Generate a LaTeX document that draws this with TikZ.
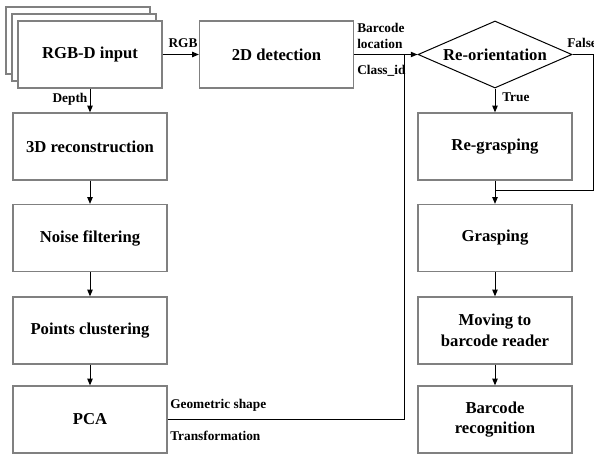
\documentclass[tikz,border=0pt]{standalone}
\usepackage{fontspec}
\setmainfont{Liberation Serif}
\usetikzlibrary{arrows.meta,shapes.geometric}

\begin{document}
\begin{tikzpicture}[
    x=0.75pt, y=-0.75pt,
    font=\bfseries\fontsize{12.5}{15.5}\selectfont,
    box/.style={
        rectangle, draw=black!50, line width=0.9pt, fill=white,
        align=center, minimum width=115.5pt, minimum height=50.25pt,
        inner sep=1mm
    },
    decision/.style={
        diamond, draw, line width=0.75pt, aspect=2.3, inner sep=0pt,
        minimum width=115.5pt, minimum height=50.25pt
    },
    lbl/.style={font=\bfseries\fontsize{10}{12}\selectfont, inner sep=0pt, align=left},
    conn/.style={-{Triangle[length=5pt, width=4pt]}, line width=0.75pt},
    line/.style={line width=0.75pt},
]

    \useasboundingbox (0,0) rectangle (594,454);

    % Column x-coordinates (pixels of the reference).
    \def\xLeft{90}
    \def\xDet{276.5}
    \def\xRight{495}
    \def\xJoin{404}
    \def\xFalse{593}

    % Row y-coordinates.
    \def\yA{54.5}
    \def\yB{146.5}
    \def\yC{238}
    \def\yD{330.5}
    \def\yE{419.5}
    \def\yFalse{190}

    % ---------- input stack ----------
    \node[box, minimum width=108pt] (stack-back) at (78,40.5) {};
    \node[box, minimum width=108pt] (stack-mid) at (84,47.5) {};
    \node[box, minimum width=108pt] (rgbd) at (\xLeft,\yA) {RGB-D input};

    % ---------- top row ----------
    \node[box] (det) at (\xDet,\yA) {2D detection};
    \node[decision] (orient) at (\xRight,\yA) {Re-orientation};

    % ---------- point cloud branch (left column) ----------
    \node[box] (recon) at (\xLeft,\yB) {3D reconstruction};
    \node[box] (noise) at (\xLeft,\yC) {Noise filtering};
    \node[box] (cluster) at (\xLeft,\yD) {Points clustering};
    \node[box] (pca) at (\xLeft,\yE) {PCA};

    % ---------- grasping branch (right column) ----------
    \node[box] (regrasp) at (\xRight,\yB) {Re-grasping};
    \node[box] (grasp) at (\xRight,\yC) {Grasping};
    \node[box] (moving) at (\xRight,\yD) {Moving to\\barcode reader};
    \node[box] (recog) at (\xRight,\yE) {Barcode\\recognition};

    % ---------- connectors ----------
    \draw[conn] (rgbd) -- (det);
    \draw[conn] (det) -- (orient);
    \draw[conn] (rgbd) -- (recon);
    \draw[conn] (recon) -- (noise);
    \draw[conn] (noise) -- (cluster);
    \draw[conn] (cluster) -- (pca);

    % PCA output joins the detection arrow
    \coordinate (join) at (\xJoin,\yA);
    \draw[line] (pca.east) -| (join);

    \draw[conn] (orient) -- (regrasp);
    \coordinate (false-turn) at (\xFalse,\yFalse);
    \coordinate (merge) at (\xRight,\yFalse);
    \draw[line] (orient.east) -| (false-turn) -- (merge);
    \draw[conn] (regrasp) -- (grasp);
    \draw[conn] (grasp) -- (moving);
    \draw[conn] (moving) -- (recog);

    % ---------- labels ----------
    \node[lbl] (rgb-lbl) at (183,43) {RGB};
    \node[lbl] (depth-lbl) at (70,99) {Depth};
    \node[lbl, anchor=west] (loc-lbl) at (357,36) {Barcode\\location};
    \node[lbl, anchor=west] (class-lbl) at (357,71) {Class\_id};
    \node[lbl, anchor=west] (true-lbl) at (502,97) {True};
    \node[lbl, anchor=west] (false-lbl) at (567,43) {False};
    \node[lbl, anchor=west] (shape-lbl) at (170,405) {Geometric shape};
    \node[lbl, anchor=west] (trans-lbl) at (170,436) {Transformation};

\end{tikzpicture}
\end{document}
